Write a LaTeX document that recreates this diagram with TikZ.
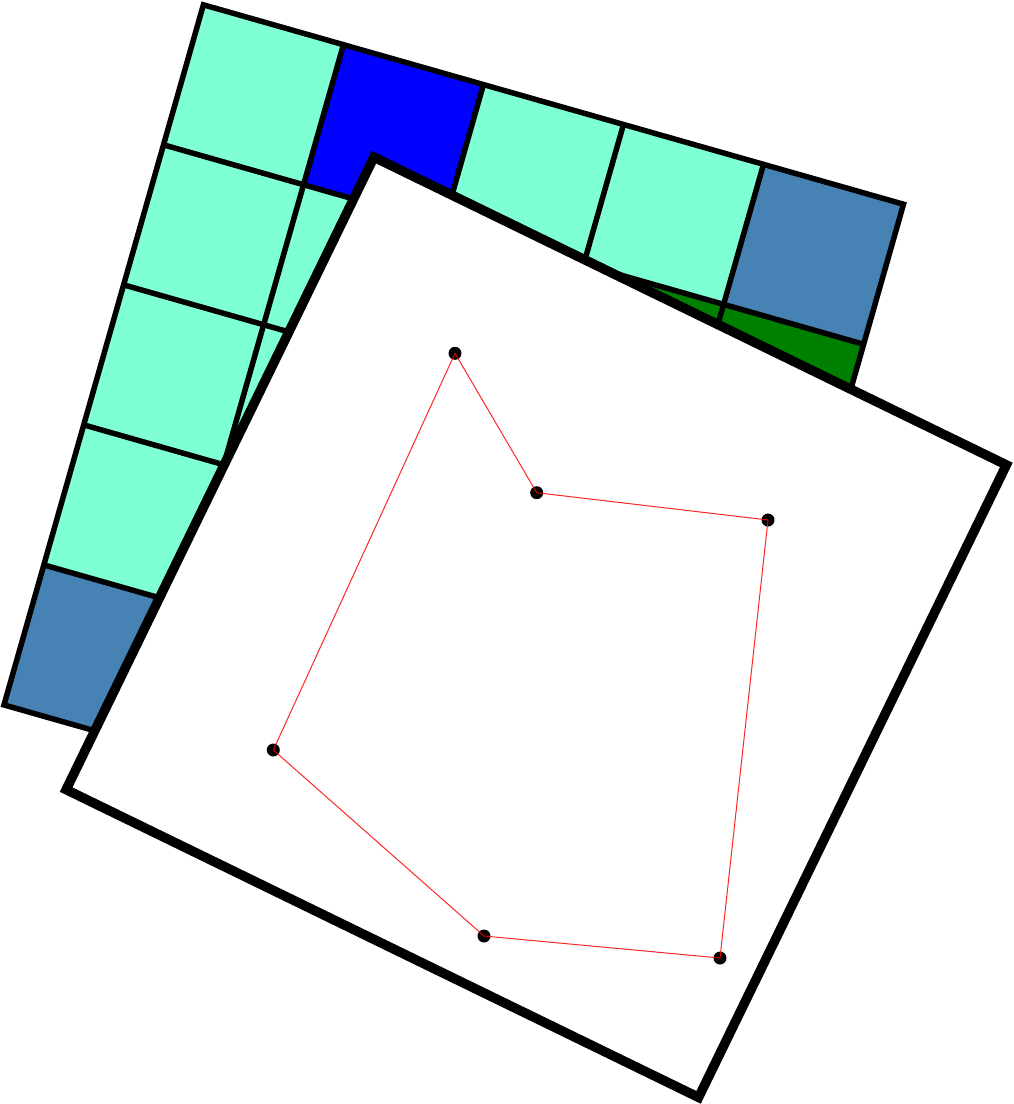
\documentclass[tikz,border=0pt]{standalone}
\definecolor{aqua}{HTML}{7FFFD4}
\definecolor{steel}{HTML}{4682B4}
\definecolor{grn}{HTML}{008000}
\definecolor{pureblue}{HTML}{0000FF}
\tikzset{
  gridline/.style={line width=5.5pt, black},
  cover/.style={line width=9.5pt, black, fill=white},
  dot/.style={fill=black},
  poly/.style={red, line width=1pt, opacity=0.85}
}
\begin{document}
\begin{tikzpicture}[x=1pt,y=1pt]
\useasboundingbox (0,0) rectangle (1014,-1104);
% tilted board
\begin{scope}[shift={(203.4,-4.8)}, rotate=-15.9]
  \def\cs{145.6}
  \fill[aqua] (0,0) rectangle (5*\cs,-5*\cs);
  \fill[pureblue] (1*\cs,0) rectangle (2*\cs,-1*\cs);
  \fill[steel] (4*\cs,0) rectangle (5*\cs,-1*\cs);
  \fill[steel] (0,-4*\cs) rectangle (1*\cs,-5*\cs);
  \fill[steel] (4*\cs,-4*\cs) rectangle (5*\cs,-5*\cs);
  \fill[grn] (3*\cs,-1*\cs) rectangle (5*\cs,-2*\cs);
  \foreach \i in {1,...,4} {
    \draw[gridline] (\i*\cs,0) -- (\i*\cs,-5*\cs);
    \draw[gridline] (0,-\i*\cs) -- (5*\cs,-\i*\cs);
  }
  \draw[gridline] (0,0) rectangle (5*\cs,-5*\cs);
\end{scope}
% white square on top
\begin{scope}[shift={(536.25,-627.25)}, rotate=-25.95]
  \draw[cover] (-351.7,-351.7) rectangle (351.7,351.7);
\end{scope}
% polygon
\coordinate (p1) at (455,-353.3);
\coordinate (p2) at (536.7,-492.7);
\coordinate (p3) at (768,-520);
\coordinate (p4) at (720,-958);
\coordinate (p5) at (484,-936);
\coordinate (p6) at (273.3,-750);
\foreach \p in {p1,p2,p3,p4,p5,p6} { \fill[dot] (\p) circle (6.5); }
\draw[poly] (p1) -- (p2) -- (p3) -- (p4) -- (p5) -- (p6) -- cycle;
\end{tikzpicture}
\end{document}
